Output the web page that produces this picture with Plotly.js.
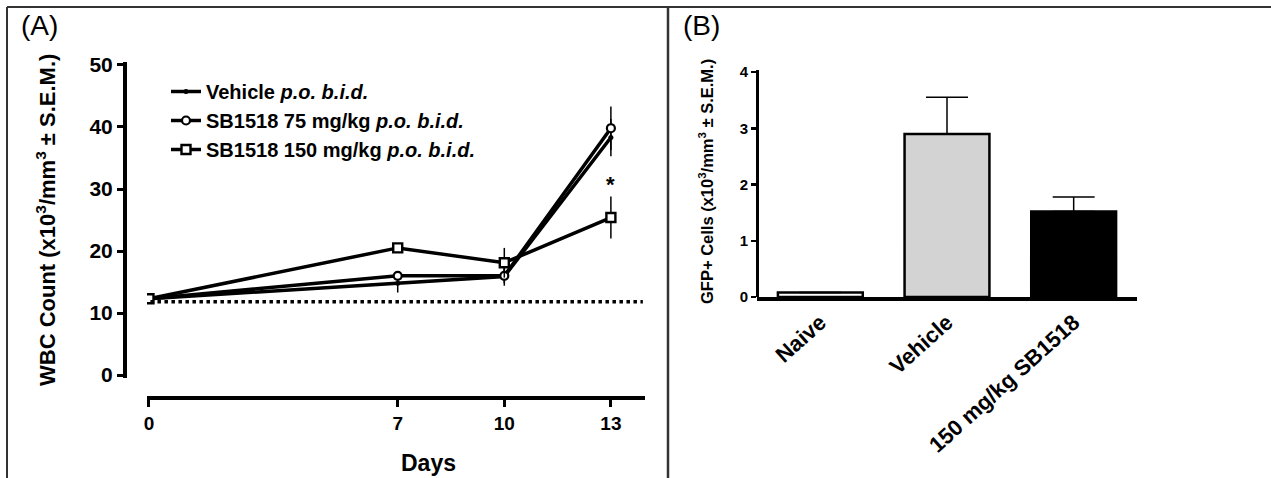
<!DOCTYPE html>
<html>
<head>
<meta charset="utf-8">
<script src="https://cdn.plot.ly/plotly-3.0.1.min.js"></script>
<style>html,body{margin:0;padding:0;background:#fff}#chart{width:1271px;height:478px}</style>
</head>
<body>
<div id="chart"></div>
<script>
// ---- Panel A data ----
const days = [0, 7, 10, 13];
const vehicle = [12.3, 14.8, 15.9, 38.3];
const vehicleErr = [0.3, 1.5, 1.5, 3.0];
const sb75 = [12.3, 16.0, 16.0, 39.8];
const sb75Err = [0.3, 0.6, 1.2, 3.5];
const sb150 = [12.3, 20.5, 18.1, 25.4];
const sb150Err = [0.3, 0.8, 2.4, 3.4];
const baseline = 11.8;
const starDay = 13, starValue = 30.8;
const seriesNames = ['Vehicle <i>p.o. b.i.d.</i>', 'SB1518 75 mg/kg <i>p.o. b.i.d.</i>', 'SB1518 150 mg/kg <i>p.o. b.i.d.</i>'];

// ---- Panel B data ----
const groups = ['Naive', 'Vehicle', '150 mg/kg SB1518'];
const gfp = [0.08, 2.9, 1.52];
const gfpErr = [0, 0.65, 0.26];
const barColors = ['#ffffff', '#d3d3d3', '#000000'];

const W = 1271, H = 478;
const px = v => v / W, py = v => 1 - v / H;
const FONT = 'Liberation Sans, Arial, sans-serif';

const lineStyle = {color: '#000', width: 3.5};
const eb = (arr) => ({type: 'data', array: arr, visible: true, color: '#000', thickness: 1.5, width: 0});

const traces = [
  {x: days, y: vehicle, name: seriesNames[0], type: 'scatter', mode: 'lines+markers', xaxis: 'x', yaxis: 'y',
   line: lineStyle, marker: {symbol: 'circle', size: 5, color: '#000'}, error_y: eb(vehicleErr)},
  {x: days, y: sb75, name: seriesNames[1], type: 'scatter', mode: 'lines+markers', xaxis: 'x', yaxis: 'y',
   line: lineStyle, marker: {symbol: 'circle', size: 8, color: '#fff', line: {color: '#000', width: 2.2}}, error_y: eb(sb75Err)},
  {x: days, y: sb150, name: seriesNames[2], type: 'scatter', mode: 'lines+markers', xaxis: 'x', yaxis: 'y',
   line: lineStyle, marker: {symbol: 'square', size: 9, color: '#fff', line: {color: '#000', width: 2.4}}, error_y: eb(sb150Err)},
  {x: groups, y: gfp, type: 'bar', xaxis: 'x2', yaxis: 'y2', showlegend: false, width: 0.67,
   marker: {color: barColors, line: {color: '#000', width: 2.5}},
   error_y: {type: 'data', array: gfpErr, arrayminus: gfp.map(() => 0), symmetric: false, visible: true, color: '#000', thickness: 1.5, width: 21}}
];

const boldTick = (s) => ({family: FONT, size: s, color: '#000', weight: 'bold'});

const layout = {
  width: W, height: H,
  margin: {l: 0, r: 0, t: 0, b: 0},
  paper_bgcolor: '#fff', plot_bgcolor: 'rgba(0,0,0,0)',
  font: {family: FONT, color: '#000'},
  showlegend: true,
  legend: {x: px(166), y: py(72), xanchor: 'left', yanchor: 'top', bgcolor: 'rgba(0,0,0,0)',
           font: {family: FONT, size: 20, color: '#000', weight: 'bold'}, tracegroupgap: 0, itemwidth: 30},
  xaxis: {domain: [px(147), px(645)], range: [-0.056, 13.96], anchor: 'free', position: py(398),
          tickvals: days, ticktext: days.map(String), showgrid: false, zeroline: false,
          showline: true, linecolor: '#000', linewidth: 4, ticks: 'outside', ticklen: 7, tickwidth: 3, tickcolor: '#000',
          tickfont: boldTick(19)},
  yaxis: {domain: [py(378), py(62)], range: [-0.48, 50.48], anchor: 'free', position: px(125),
          tickvals: [0, 10, 20, 30, 40, 50], showgrid: false, zeroline: false,
          showline: true, linecolor: '#000', linewidth: 4, ticks: 'outside', ticklen: 6, tickwidth: 3, tickcolor: '#000',
          tickfont: boldTick(21)},
  xaxis2: {domain: [px(757), px(1137)], range: [-0.5, 2.5], anchor: 'y2', type: 'category',
           showgrid: false, zeroline: false, showline: true, linecolor: '#000', linewidth: 4, ticks: '',
           tickangle: -42, tickfont: boldTick(22)},
  yaxis2: {domain: [py(297), py(69.75)], range: [0, 4.04], anchor: 'free', position: px(757),
           tickvals: [0, 1, 2, 3, 4], showgrid: false, zeroline: false,
           showline: true, linecolor: '#000', linewidth: 3, ticks: 'outside', ticklen: 5, tickwidth: 2.5, tickcolor: '#000',
           tickfont: boldTick(15)},
  shapes: [
    {type: 'line', xref: 'paper', yref: 'paper', x0: px(7), x1: 1, y0: py(7), y1: py(7), line: {color: '#333', width: 2}},
    {type: 'line', xref: 'paper', yref: 'paper', x0: px(7), x1: px(7), y0: py(7), y1: 0, line: {color: '#333', width: 2}},
    {type: 'line', xref: 'paper', yref: 'paper', x0: px(668), x1: px(668), y0: py(7), y1: 0, line: {color: '#333', width: 2.5}},
    {type: 'line', xref: 'x', yref: 'y', x0: -0.55, x1: 13.9, y0: baseline, y1: baseline, line: {color: '#000', width: 3.5, dash: 'dot'}}
  ],
  annotations: [
    {text: '(A)', xref: 'paper', yref: 'paper', x: px(19), y: py(26), xanchor: 'left', yanchor: 'middle', showarrow: false,
     font: {family: FONT, size: 28, color: '#000'}},
    {text: '(B)', xref: 'paper', yref: 'paper', x: px(681), y: py(26), xanchor: 'left', yanchor: 'middle', showarrow: false,
     font: {family: FONT, size: 28, color: '#000'}},
    {text: 'WBC Count (x10<sup>3</sup>/mm<sup>3</sup> ± S.E.M.)', xref: 'paper', yref: 'paper', x: px(46), y: py(220),
     xanchor: 'center', yanchor: 'middle', textangle: -90, showarrow: false,
     font: {family: FONT, size: 22, color: '#000', weight: 'bold'}},
    {text: 'Days', xref: 'paper', yref: 'paper', x: px(428), y: py(463), xanchor: 'center', yanchor: 'middle', showarrow: false,
     font: {family: FONT, size: 23, color: '#000', weight: 'bold'}},
    {text: '*', xref: 'x', yref: 'y', x: starDay, y: starValue, xanchor: 'center', yanchor: 'middle', showarrow: false,
     font: {family: FONT, size: 22, color: '#000', weight: 'bold'}},
    {text: 'GFP+ Cells (x10<sup>3</sup>/mm<sup>3</sup> ± S.E.M.)', xref: 'paper', yref: 'paper', x: px(706), y: py(182),
     xanchor: 'center', yanchor: 'middle', textangle: -90, showarrow: false,
     font: {family: FONT, size: 16.5, color: '#000', weight: 'bold'}}
  ]
};

Plotly.newPlot('chart', traces, layout, {displayModeBar: false, staticPlot: true});
</script>
</body>
</html>
